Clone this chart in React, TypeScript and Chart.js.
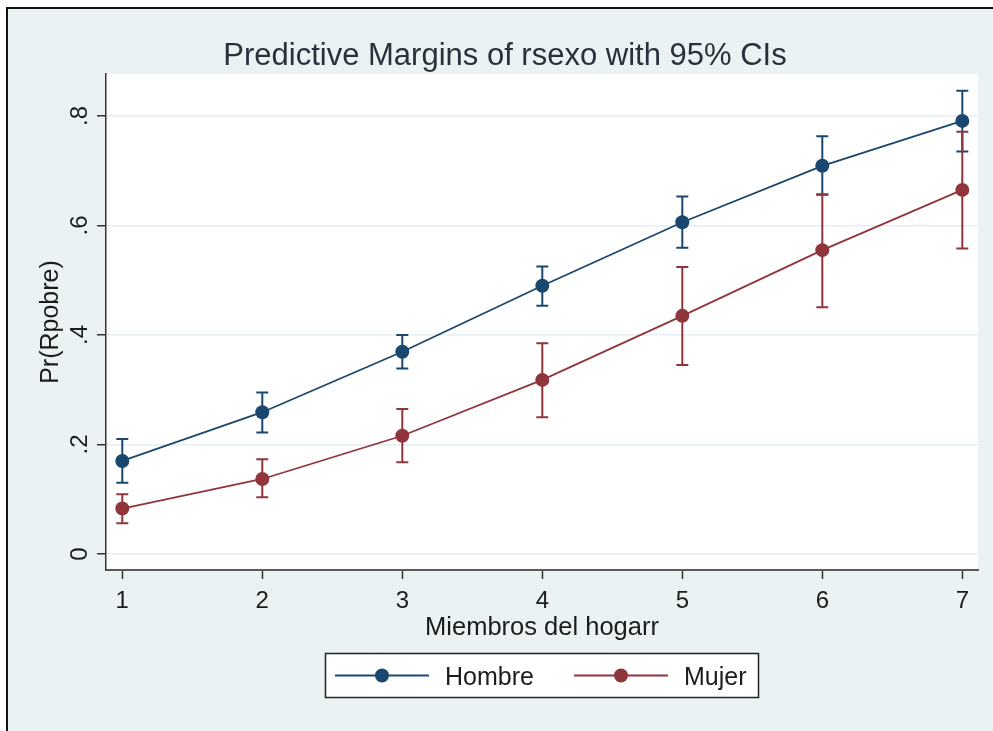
import React, { useEffect, useRef } from "react";
import { Chart, registerables } from "chart.js";

Chart.register(...registerables);

const categories = [1, 2, 3, 4, 5, 6, 7];
const hombre = [0.17, 0.259, 0.3695, 0.49, 0.606, 0.709, 0.791];
const hombreLo = [0.13, 0.222, 0.339, 0.4535, 0.5595, 0.656, 0.735];
const hombreHi = [0.21, 0.295, 0.4, 0.525, 0.653, 0.763, 0.846];
const mujer = [0.083, 0.137, 0.216, 0.318, 0.435, 0.555, 0.665];
const mujerLo = [0.056, 0.1035, 0.1675, 0.25, 0.345, 0.4506, 0.558];
const mujerHi = [0.109, 0.173, 0.265, 0.385, 0.524, 0.657, 0.771];
const xTicks = [1, 2, 3, 4, 5, 6, 7];
const yTicks = [0, 0.2, 0.4, 0.6, 0.8];
const yTickLabels = ["0", ".2", ".4", ".6", ".8"];
const seriesNames = ["Hombre", "Mujer"];

const TITLE = "Predictive Margins of rsexo with 95% CIs";
const X_TITLE = "Miembros del hogarr";
const Y_TITLE = "Pr(Rpobre)";
const NAVY = "#1a476f";
const MAROON = "#90353b";
const BG = "#eaf2f3";
const FONT = "'Liberation Sans', Arial, sans-serif";
const TEXT = "#1c1c1c";
const TITLE_COLOR = "#28323d";

const W = 993;
const H = 731;

const ciPlugin = {
  id: "ci",
  beforeDatasetsDraw(chart: any) {
    const ctx = chart.ctx;
    const xs = chart.scales.x;
    const ys = chart.scales.y;
    const sets = [
      { lo: hombreLo, hi: hombreHi, color: NAVY },
      { lo: mujerLo, hi: mujerHi, color: MAROON },
    ];
    ctx.save();
    sets.forEach((s) => {
      ctx.strokeStyle = s.color;
      ctx.lineWidth = 2;
      categories.forEach((c, i) => {
        const px = xs.getPixelForValue(c);
        const y1 = ys.getPixelForValue(s.lo[i]);
        const y2 = ys.getPixelForValue(s.hi[i]);
        ctx.beginPath();
        ctx.moveTo(px, y1);
        ctx.lineTo(px, y2);
        ctx.moveTo(px - 6, y1);
        ctx.lineTo(px + 6, y1);
        ctx.moveTo(px - 6, y2);
        ctx.lineTo(px + 6, y2);
        ctx.stroke();
      });
    });
    ctx.restore();
  },
};

const framePlugin = {
  id: "frame",
  beforeDraw(chart: any) {
    const ctx = chart.ctx;
    const a = chart.chartArea;
    ctx.save();
    ctx.fillStyle = "#ffffff";
    ctx.fillRect(0, 0, W, H);
    ctx.fillStyle = BG;
    ctx.fillRect(6, 7, W - 6, H - 7);
    ctx.strokeStyle = "#111111";
    ctx.lineWidth = 2;
    ctx.beginPath();
    ctx.moveTo(7, H + 2);
    ctx.lineTo(7, 8);
    ctx.lineTo(W + 2, 8);
    ctx.stroke();
    ctx.fillStyle = "#ffffff";
    ctx.fillRect(a.left, a.top, a.right - a.left, a.bottom - a.top);
    ctx.restore();
  },
  afterDraw(chart: any) {
    const ctx = chart.ctx;
    const ys = chart.scales.y;
    ctx.save();
    // Title
    ctx.fillStyle = TITLE_COLOR;
    ctx.font = `31px ${FONT}`;
    ctx.textAlign = "center";
    ctx.textBaseline = "alphabetic";
    ctx.fillText(TITLE, 505, 65);
    ctx.fillStyle = TEXT;
    // Y tick labels (rotated)
    ctx.font = `24px ${FONT}`;
    yTicks.forEach((v, i) => {
      const py = ys.getPixelForValue(v);
      ctx.save();
      ctx.translate(87, py);
      ctx.rotate(-Math.PI / 2);
      ctx.textAlign = "center";
      ctx.textBaseline = "alphabetic";
      ctx.fillText(yTickLabels[i], 0, 0);
      ctx.restore();
    });
    // Y title
    ctx.font = `25px ${FONT}`;
    ctx.save();
    ctx.translate(58, (chart.chartArea.top + chart.chartArea.bottom) / 2);
    ctx.rotate(-Math.PI / 2);
    ctx.textAlign = "center";
    ctx.fillText(Y_TITLE, 0, 0);
    ctx.restore();
    // X title
    ctx.font = `25.5px ${FONT}`;
    ctx.textAlign = "center";
    ctx.fillText(X_TITLE, (chart.chartArea.left + chart.chartArea.right) / 2, 635);
    // Legend
    const bx = 325.5, by = 653.5, bw = 433, bh = 44;
    ctx.fillStyle = "#ffffff";
    ctx.fillRect(bx, by, bw, bh);
    ctx.strokeStyle = "#222222";
    ctx.lineWidth = 1.5;
    ctx.strokeRect(bx, by, bw, bh);
    const items = [
      { name: seriesNames[0], color: NAVY, x0: 335, x1: 429, tx: 445 },
      { name: seriesNames[1], color: MAROON, x0: 574, x1: 668, tx: 684 },
    ];
    const ly = 675.5;
    items.forEach((it) => {
      ctx.strokeStyle = it.color;
      ctx.lineWidth = 1.8;
      ctx.beginPath();
      ctx.moveTo(it.x0, ly);
      ctx.lineTo(it.x1, ly);
      ctx.stroke();
      ctx.fillStyle = it.color;
      ctx.beginPath();
      ctx.arc((it.x0 + it.x1) / 2, ly, 7, 0, Math.PI * 2);
      ctx.fill();
      ctx.fillStyle = TEXT;
      ctx.font = `25px ${FONT}`;
      ctx.textAlign = "left";
      ctx.textBaseline = "alphabetic";
      ctx.fillText(it.name, it.tx, 685);
    });
    ctx.restore();
  },
};

export default function App() {
  const ref = useRef<HTMLCanvasElement | null>(null);
  useEffect(() => {
    if (!ref.current) return;
    const chart = new Chart(ref.current, {
      type: "line",
      data: {
        datasets: [
          {
            label: seriesNames[0],
            data: categories.map((c, i) => ({ x: c, y: hombre[i] })),
            borderColor: NAVY,
            backgroundColor: NAVY,
            borderWidth: 1.8,
            pointRadius: 7,
            pointBorderWidth: 0,
            pointBackgroundColor: NAVY,
            tension: 0,
          },
          {
            label: seriesNames[1],
            data: categories.map((c, i) => ({ x: c, y: mujer[i] })),
            borderColor: MAROON,
            backgroundColor: MAROON,
            borderWidth: 1.8,
            pointRadius: 7,
            pointBorderWidth: 0,
            pointBackgroundColor: MAROON,
            tension: 0,
          },
        ],
      },
      options: {
        responsive: false,
        animation: false,
        layout: { padding: { left: 0, top: 74, right: 15, bottom: 0 } },
        plugins: {
          legend: { display: false },
          title: { display: false },
          tooltip: { enabled: false },
        },
        scales: {
          x: {
            type: "linear",
            min: 0.8836,
            max: 7.1121,
            afterBuildTicks: (s: any) => {
              s.ticks = xTicks.map((v) => ({ value: v }));
            },
            afterFit: (s: any) => {
              s.height = 161;
            },
            ticks: {
              font: { family: FONT, size: 24 },
              color: TEXT,
              padding: 8.3,
              maxRotation: 0,
              minRotation: 0,
              callback: (v: any) => String(v),
            },
            grid: {
              drawOnChartArea: false,
              drawTicks: true,
              tickLength: 9,
              tickColor: "#333333",
              tickWidth: 1.5,
            },
            border: { display: true, color: "#5a5a5a", width: 2 },
          },
          y: {
            type: "linear",
            min: -0.0292,
            max: 0.8767,
            afterBuildTicks: (s: any) => {
              s.ticks = yTicks.map((v) => ({ value: v }));
            },
            afterFit: (s: any) => {
              s.width = 106;
            },
            ticks: { display: false },
            grid: {
              color: "#e6eef1",
              lineWidth: 1.5,
              drawTicks: true,
              tickLength: 9,
              tickColor: "#333333",
              tickWidth: 1.5,
            },
            border: { display: true, color: "#333333", width: 1.5 },
          },
        },
      },
      plugins: [framePlugin, ciPlugin],
    } as any);
    return () => chart.destroy();
  }, []);
  return (
    <div style={{ position: "fixed", left: 0, top: 0, width: W, height: H }}>
      <canvas ref={ref} width={W} height={H} style={{ display: "block" }} />
    </div>
  );
}
